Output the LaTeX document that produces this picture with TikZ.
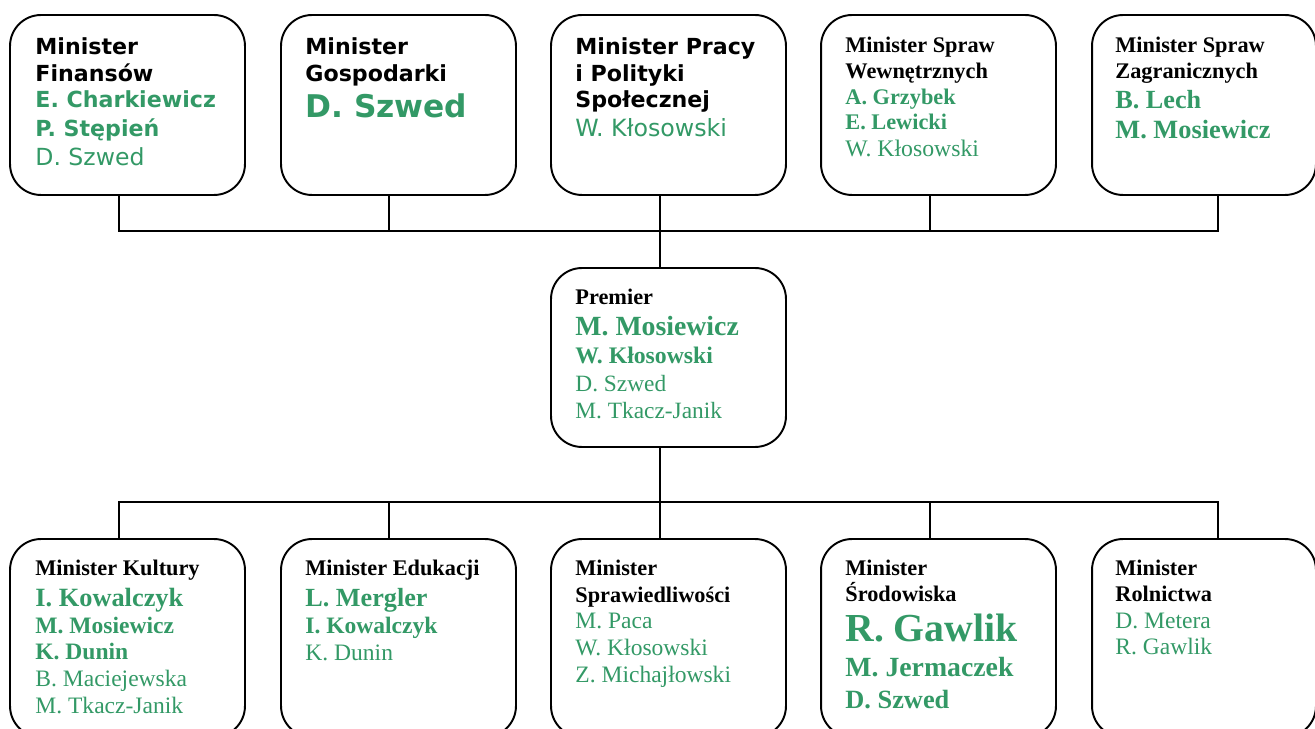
\documentclass[tikz,border=0pt]{standalone}
\usepackage{fontspec}
\setmainfont{Liberation Serif}
\newfontfamily\verdanalike{DejaVu Sans}
\usetikzlibrary{calc}
\definecolor{minigreen}{RGB}{51,153,102}
\lineskiplimit=-100pt
% green names: bold / regular
\newcommand{\gb}[2]{{\color{minigreen}\bfseries\fontsize{#1}{#1}\selectfont #2}}
\newcommand{\gm}[2]{{\color{minigreen}\mdseries\fontsize{#1}{#1}\selectfont #2}}
\tikzset{
  box/.style={draw, line width=1.1pt, rounded corners=0.62cm, minimum width=4.7cm, minimum height=3.6cm, inner sep=0pt},
  lowbox/.style={box, minimum height=3.96cm},
  sanstxt/.style={anchor=north west, inner sep=0pt, align=left, font=\verdanalike\bfseries\fontsize{12.6}{15.3}\selectfont},
  seriftxt/.style={anchor=north west, inner sep=0pt, align=left, font=\bfseries\fontsize{12.7}{14.7}\selectfont},
  link/.style={line width=1.1pt},
}
\begin{document}
\begin{tikzpicture}[x=0.02cm, y=-0.02cm]
    \useasboundingbox (0,0) rectangle (1315,729);

    % ministers above
    \node[box] (fin) at (127.5,105) {};
    \node[box] (gos) at (398.5,105) {};
    \node[box] (pra) at (668.5,105) {};
    \node[box] (wew) at (938.5,105) {};
    \node[box, minimum width=4.48cm] (zag) at (1204,105) {};

    % premier
    \node[box, minimum height=3.58cm] (prem) at (668.5,357.5) {};

    % ministers below
    \node[lowbox] (kul) at (127.5,638) {};
    \node[lowbox] (edu) at (398.5,638) {};
    \node[lowbox] (spr) at (668.5,638) {};
    \node[lowbox] (sro) at (938.5,638) {};
    \node[lowbox, minimum width=4.48cm] (rol) at (1204,638) {};

    % texts
    \node[sanstxt] (finT) at ([shift={(26,23)}]fin.north west)
      {Minister\\Finansów\\\gb{12.6}{E. Charkiewicz}\\[1.1pt]\gb{12.6}{P. Stępień}\\[1.1pt]\gm{13.4}{D. Szwed}};
    \node[sanstxt] (gosT) at ([shift={(25,23)}]gos.north west)
      {Minister\\Gospodarki\\[5.7pt]\gb{17.8}{D. Szwed}};
    \node[sanstxt] (praT) at ([shift={(25,23)}]pra.north west)
      {Minister Pracy\\i Polityki\\Społecznej\\[1.1pt]\gm{13.5}{W. Kłosowski}};
    \node[seriftxt] (wewT) at ([shift={(25,22.5)}]wew.north west)
      {Minister Spraw\\Wewnętrznych\\\gb{12.7}{A. Grzybek}\\\gb{12.7}{E. Lewicki}\\[0.6pt]\gm{13.5}{W. Kłosowski}};
    \node[seriftxt] (zagT) at ([shift={(24,22.5)}]zag.north west)
      {Minister Spraw\\Zagranicznych\\[2.3pt]\gb{14.9}{B. Lech}\\[2.8pt]\gb{15}{M. Mosiewicz}};

    \node[seriftxt] (premT) at ([shift={(25,22)}]prem.north west)
      {Premier\\[2.8pt]\gb{15.8}{M. Mosiewicz}\\[1.1pt]\gb{13.5}{W. Kłosowski}\\[1.1pt]\gm{13.3}{D. Szwed}\\[0.6pt]\gm{13.3}{M. Tkacz-Janik}};

    \node[seriftxt] (kulT) at ([shift={(26,21.5)}]kul.north west)
      {Minister Kultury\\[2.8pt]\gb{15}{I. Kowalczyk}\\[1.1pt]\gb{13.4}{M. Mosiewicz}\\\gb{13.4}{K. Dunin}\\[0.6pt]\gm{13.4}{B. Maciejewska}\\[0.6pt]\gm{13.4}{M. Tkacz-Janik}};
    \node[seriftxt] (eduT) at ([shift={(25,21.5)}]edu.north west)
      {Minister Edukacji\\[2.8pt]\gb{14.9}{L. Mergler}\\[1.1pt]\gb{13.4}{I. Kowalczyk}\\[0.6pt]\gm{13.4}{K. Dunin}};
    \node[seriftxt] (sprT) at ([shift={(25,21.5)}]spr.north west)
      {Minister\\[0.6pt]Sprawiedliwości\\\gm{13.4}{M. Paca}\\[1.1pt]\gm{13.4}{W. Kłosowski}\\[0.6pt]\gm{13.4}{Z. Michajłowski}};
    \node[seriftxt] (sroT) at ([shift={(25,21.5)}]sro.north west)
      {Minister\\Środowiska\\[8.5pt]\gb{22.6}{R. Gawlik}\\[5.1pt]\gb{15.8}{M. Jermaczek}\\[3.4pt]\gb{15}{D. Szwed}};
    \node[seriftxt] (rolT) at ([shift={(24,21.5)}]rol.north west)
      {Minister\\Rolnictwa\\[0.6pt]\gm{13.4}{D. Metera}\\[0.6pt]\gm{13.4}{R. Gawlik}};

    % connectors
    \coordinate (topbar) at (660,231);
    \coordinate (botbar) at (660,502);
    \draw[link] ([shift={(-8.5,0)}]fin.south) |- (topbar);
    \draw[link] ([shift={(-9.5,0)}]gos.south) |- (topbar);
    \draw[link] ([shift={(-8.5,0)}]pra.south) -- (topbar);
    \draw[link] ([shift={(-8.5,0)}]wew.south) |- (topbar);
    \draw[link] ([shift={(14,0)}]zag.south) |- (topbar);
    \draw[link] ([shift={(-8.5,0)}]prem.north) -- (topbar);
    \draw[link] ([shift={(-8.5,0)}]prem.south) -- (botbar);
    \draw[link] ([shift={(-8.5,0)}]kul.north) |- (botbar);
    \draw[link] ([shift={(-9.5,0)}]edu.north) |- (botbar);
    \draw[link] ([shift={(-8.5,0)}]spr.north) -- (botbar);
    \draw[link] ([shift={(-8.5,0)}]sro.north) |- (botbar);
    \draw[link] ([shift={(14,0)}]rol.north) |- (botbar);
\end{tikzpicture}
\end{document}
